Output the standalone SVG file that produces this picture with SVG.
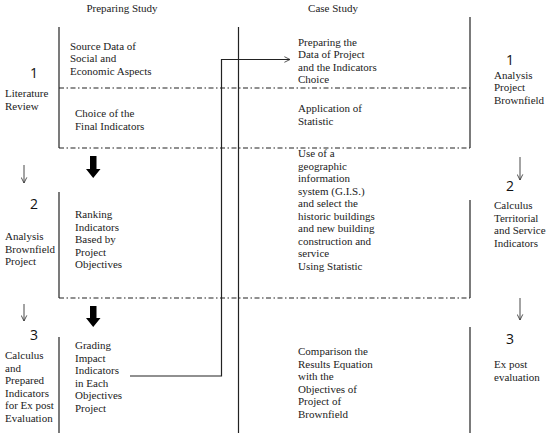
<svg xmlns="http://www.w3.org/2000/svg" width="550" height="437" viewBox="0 0 550 437">
<defs>
<style>
.t{font-family:"Liberation Serif","Times New Roman",serif;font-size:11px;fill:#222}
.n{font-family:"Open Sans","Noto Sans",sans-serif;font-size:14px;fill:#111}
.ln{stroke:#222;stroke-width:1.2;fill:none}
.dd{stroke:#222;stroke-width:1.2;fill:none;stroke-dasharray:5 2.5 1.5 2.5}
.sa{stroke:#333;stroke-width:0.9;fill:none}
.big{fill:#000}
</style>
<marker id="open" viewBox="0 0 10 10" refX="9" refY="5" markerWidth="7" markerHeight="7" orient="auto" markerUnits="userSpaceOnUse">
<path d="M1,1 L9,5 L1,9" fill="none" stroke="#333" stroke-width="1.2"/>
</marker>
</defs>
<rect width="550" height="437" fill="#fff"/>

<g id="headers">
<text class="t" x="122" y="12" text-anchor="middle">Preparing Study</text>
<text class="t" x="333" y="12" text-anchor="middle">Case Study</text>
</g>

<g id="frame">
<line class="ln" x1="59" y1="27" x2="59" y2="148"/>
<line class="ln" x1="59" y1="192" x2="59" y2="298"/>
<line class="ln" x1="59" y1="337" x2="59" y2="433"/>
<line class="ln" x1="238.5" y1="27" x2="238.5" y2="433"/>
<line class="ln" x1="470" y1="17" x2="470" y2="148"/>
<line class="ln" x1="470" y1="200" x2="470" y2="298"/>
<line class="ln" x1="470" y1="327" x2="470" y2="433"/>
<line class="dd" x1="59" y1="88" x2="470" y2="88"/>
<line class="dd" x1="59" y1="148" x2="470" y2="148"/>
<line class="dd" x1="59" y1="298" x2="470" y2="298"/>
</g>

<g id="connectors">
<path class="ln" d="M130,376 H221.5 V59.5 H290" marker-end="url(#open)"/>
<line class="sa" x1="24" y1="165" x2="24" y2="183" marker-end="url(#open)"/>
<line class="sa" x1="24" y1="304" x2="24" y2="321" marker-end="url(#open)"/>
<line class="sa" x1="520" y1="157" x2="520" y2="180" marker-end="url(#open)"/>
<line class="sa" x1="520" y1="298" x2="520" y2="320" marker-end="url(#open)"/>
<path class="big" d="M90,156 H96.5 V169 H100.5 L93.2,178 L86,169 H90 Z"/>
<path class="big" d="M90,306 H96.5 V318 H100.5 L93.2,327 L86,318 H90 Z"/>
</g>

<g id="stage1-left">
<text class="n" x="34" y="78" text-anchor="middle">1</text>
<text class="t" x="5" y="97">Literature</text>
<text class="t" x="5" y="110">Review</text>
</g>
<g id="source-data">
<text class="t" x="70" y="49.5">Source Data of</text>
<text class="t" x="70" y="62">Social and</text>
<text class="t" x="70" y="74.5">Economic Aspects</text>
</g>
<g id="choice-final">
<text class="t" x="75" y="117">Choice of the</text>
<text class="t" x="75" y="130">Final Indicators</text>
</g>
<g id="stage2-left">
<text class="n" x="34" y="209" text-anchor="middle">2</text>
<text class="t" x="5" y="240">Analysis</text>
<text class="t" x="5" y="252.5">Brownfield</text>
<text class="t" x="5" y="265">Project</text>
</g>
<g id="ranking">
<text class="t" x="75" y="218">Ranking</text>
<text class="t" x="75" y="230.5">Indicators</text>
<text class="t" x="75" y="243">Based by</text>
<text class="t" x="75" y="255.5">Project</text>
<text class="t" x="75" y="268">Objectives</text>
</g>
<g id="stage3-left">
<text class="n" x="34" y="340" text-anchor="middle">3</text>
<text class="t" x="5" y="359">Calculus</text>
<text class="t" x="5" y="371.5">and</text>
<text class="t" x="5" y="384">Prepared</text>
<text class="t" x="5" y="396.5">Indicators</text>
<text class="t" x="5" y="409">for Ex post</text>
<text class="t" x="5" y="421.5">Evaluation</text>
</g>
<g id="grading">
<text class="t" x="75" y="349">Grading</text>
<text class="t" x="75" y="361.5">Impact</text>
<text class="t" x="75" y="374">Indicators</text>
<text class="t" x="75" y="386.5">in Each</text>
<text class="t" x="75" y="399">Objectives</text>
<text class="t" x="75" y="411.5">Project</text>
</g>

<g id="preparing-data">
<text class="t" x="298" y="45.5">Preparing the</text>
<text class="t" x="298" y="58">Data of Project</text>
<text class="t" x="298" y="70.5">and the Indicators</text>
<text class="t" x="298" y="83">Choice</text>
</g>
<g id="application">
<text class="t" x="298" y="112">Application of</text>
<text class="t" x="298" y="124.5">Statistic</text>
</g>
<g id="gis">
<text class="t" x="298" y="157">Use of a</text>
<text class="t" x="298" y="169.5">geographic</text>
<text class="t" x="298" y="182">information</text>
<text class="t" x="298" y="194.5">system (G.I.S.)</text>
<text class="t" x="298" y="207">and select the</text>
<text class="t" x="298" y="219.5">historic buildings</text>
<text class="t" x="298" y="232">and new building</text>
<text class="t" x="298" y="244.5">construction and</text>
<text class="t" x="298" y="257">service</text>
<text class="t" x="298" y="269.5">Using Statistic</text>
</g>
<g id="comparison">
<text class="t" x="298" y="355">Comparison the</text>
<text class="t" x="298" y="367.5">Results Equation</text>
<text class="t" x="298" y="380">with the</text>
<text class="t" x="298" y="392.5">Objectives of</text>
<text class="t" x="298" y="405">Project of</text>
<text class="t" x="298" y="417.5">Brownfield</text>
</g>

<g id="stage1-right">
<text class="n" x="510" y="65" text-anchor="middle">1</text>
<text class="t" x="494" y="78.5">Analysis</text>
<text class="t" x="494" y="91">Project</text>
<text class="t" x="494" y="103.5">Brownfield</text>
</g>
<g id="stage2-right">
<text class="n" x="510" y="191" text-anchor="middle">2</text>
<text class="t" x="494" y="209">Calculus</text>
<text class="t" x="494" y="221.5">Territorial</text>
<text class="t" x="494" y="234">and Service</text>
<text class="t" x="494" y="246.5">Indicators</text>
</g>
<g id="stage3-right">
<text class="n" x="510" y="344" text-anchor="middle">3</text>
<text class="t" x="494" y="368">Ex post</text>
<text class="t" x="494" y="380.5">evaluation</text>
</g>
</svg>
